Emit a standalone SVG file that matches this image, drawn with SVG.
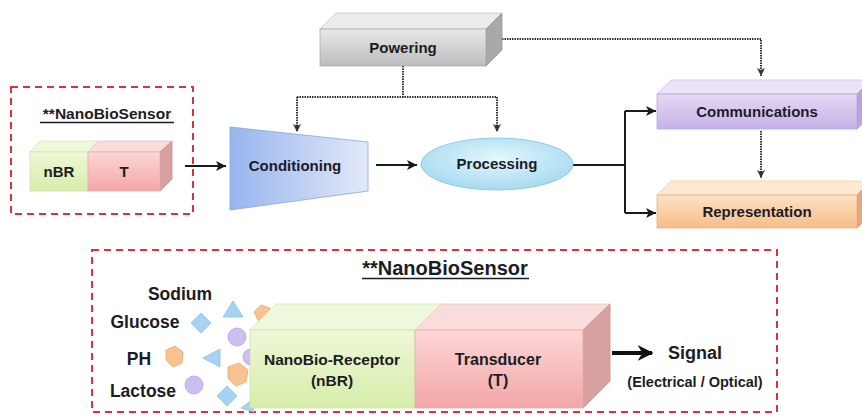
<svg xmlns="http://www.w3.org/2000/svg" width="862" height="415" viewBox="0 0 862 415">
<defs>
<style>
text{font-family:"Liberation Sans",Arial,sans-serif;font-weight:bold;fill:#1c1c24;text-anchor:middle}
.dash{fill:none;stroke:#e0303a;stroke-width:2;stroke-dasharray:7 5}
.solid{fill:none;stroke:#1a1a1a;stroke-width:2}
.dot{fill:none;stroke:#333;stroke-width:2;stroke-dasharray:1.5 1}
.blue{fill:#a6d2f4;stroke:#8fc0e8;stroke-width:0.8}
.purp{fill:#cdbdf0;stroke:#b6a3e2;stroke-width:0.8}
.oran{fill:#f8c291;stroke:#eaa770;stroke-width:0.8}
</style>
<linearGradient id="gPow" x1="0" y1="0" x2="0" y2="1"><stop offset="0" stop-color="#e8e8e8"/><stop offset="1" stop-color="#bcbcbc"/></linearGradient>
<linearGradient id="gCom" x1="0" y1="0" x2="0" y2="1"><stop offset="0" stop-color="#e4d9f5"/><stop offset="1" stop-color="#c5b2e8"/></linearGradient>
<linearGradient id="gRep" x1="0" y1="0" x2="0" y2="1"><stop offset="0" stop-color="#fde2c4"/><stop offset="1" stop-color="#f6bd8a"/></linearGradient>
<linearGradient id="gNbr" x1="0" y1="0" x2="0" y2="1"><stop offset="0" stop-color="#eef8d8"/><stop offset="1" stop-color="#d6eda9"/></linearGradient>
<linearGradient id="gT" x1="0" y1="0" x2="0" y2="1"><stop offset="0" stop-color="#fcd6d6"/><stop offset="1" stop-color="#f3a6a6"/></linearGradient>
<linearGradient id="gCond" x1="0" y1="0" x2="1" y2="0"><stop offset="0" stop-color="#98b5ee"/><stop offset="1" stop-color="#e2e9f8"/></linearGradient>
<radialGradient id="gProc" cx="0.5" cy="0.4" r="0.6"><stop offset="0" stop-color="#e4f7fd"/><stop offset="1" stop-color="#a6daf1"/></radialGradient>
<marker id="arr" viewBox="0 0 10 10" refX="10" refY="5" markerWidth="10" markerHeight="10" markerUnits="userSpaceOnUse" orient="auto"><path d="M0,0 L10,5 L0,10 L2.5,5 z" fill="#1a1a1a"/></marker>
<marker id="arrS" viewBox="0 0 10 10" refX="10" refY="5" markerWidth="8" markerHeight="8" markerUnits="userSpaceOnUse" orient="auto"><path d="M0,0 L10,5 L0,10 L2.5,5 z" fill="#333"/></marker>
<marker id="arrB" viewBox="0 0 10 10" refX="9" refY="5" markerWidth="16" markerHeight="16" markerUnits="userSpaceOnUse" orient="auto"><path d="M0,0 L10,5 L0,10 L3,5 z" fill="#111"/></marker>
</defs>
<rect width="862" height="415" fill="#ffffff"/>

<g id="connectors">
<path class="solid" d="M185,166 L226,166" marker-end="url(#arr)"/>
<path class="solid" d="M376,165 L417,165" marker-end="url(#arr)"/>
<path class="solid" d="M573,165 L625,165 M625,111 L625,213"/>
<path class="solid" d="M625,111 L656,111" marker-end="url(#arr)"/>
<path class="solid" d="M625,213 L656,213" marker-end="url(#arr)"/>
<path class="dot" d="M403,66 L403,97 M297,97 L497,97"/>
<path class="dot" d="M297,97 L297,132" marker-end="url(#arrS)"/>
<path class="dot" d="M497,97 L497,132" marker-end="url(#arrS)"/>
<path class="dot" d="M502,39 L761,39 L761,76" marker-end="url(#arrS)"/>
<path class="dot" d="M761,131 L761,178" marker-end="url(#arrS)"/>
<path fill="none" stroke="#111" stroke-width="4" d="M612,353 L652,353" marker-end="url(#arrB)"/>
</g>

<g id="nbs-small">
<rect class="dash" x="11" y="87" width="182" height="127"/>
<text x="107" y="119" font-size="15.5">**NanoBioSensor</text>
<line x1="40" y1="122.5" x2="174" y2="122.5" stroke="#1c1c24" stroke-width="1.3"/>
<g id="small-nbr">
<polygon points="30,152 40,141 98,141 88,152" fill="#eef8da" stroke="#d8e8c0" stroke-width="0.8"/>
<rect x="30" y="152" width="58" height="39" fill="url(#gNbr)" stroke="#cfe0b0" stroke-width="0.8"/>
<text x="59" y="177" font-size="15">nBR</text>
</g>
<g id="small-t">
<polygon points="88,152 98,141 172,141 160,152" fill="#fbdcdc" stroke="#eac4c4" stroke-width="0.8"/>
<polygon points="160,152 172,141 172,179 160,191" fill="#d9a0a0" stroke="#c89090" stroke-width="0.8"/>
<rect x="88" y="152" width="72" height="39" fill="url(#gT)" stroke="#e6b0b0" stroke-width="0.8"/>
<text x="124" y="177" font-size="15">T</text>
</g>
</g>

<g id="powering">
<polygon points="320,29 336,13 502,13 486,29" fill="#ececec" stroke="#c4c4c4" stroke-width="0.8"/>
<polygon points="486,29 502,13 502,50 486,66" fill="#a8a8a8" stroke="#999" stroke-width="0.8"/>
<rect x="320" y="29" width="166" height="37" fill="url(#gPow)" stroke="#a8a8a8" stroke-width="0.8"/>
<text x="403" y="53" font-size="15">Powering</text>
</g>

<g id="conditioning">
<polygon points="230,127 368,142 368,191 230,210" fill="url(#gCond)" stroke="#8aa6dc" stroke-width="0.8"/>
<text x="295" y="171" font-size="15">Conditioning</text>
</g>

<g id="processing">
<ellipse cx="497" cy="164" rx="76" ry="26" fill="url(#gProc)" stroke="#90cbe6" stroke-width="1"/>
<text x="497" y="169" font-size="15">Processing</text>
</g>

<g id="communications">
<polygon points="657,94 671,80 871,80 857,94" fill="#ebe3f8" stroke="#cfc2ea" stroke-width="0.8"/>
<polygon points="857,94 871,80 871,115 857,129" fill="#b9a5dc" stroke="#a894d0" stroke-width="0.8"/>
<rect x="657" y="94" width="200" height="35" fill="url(#gCom)" stroke="#b8a6dc" stroke-width="0.8"/>
<text x="757" y="117" font-size="15">Communications</text>
</g>

<g id="representation">
<polygon points="657,195 671,181 871,181 857,195" fill="#fde8d2" stroke="#f0cfae" stroke-width="0.8"/>
<polygon points="857,195 871,181 871,214 857,228" fill="#e6a878" stroke="#d89868" stroke-width="0.8"/>
<rect x="657" y="195" width="200" height="33" fill="url(#gRep)" stroke="#e8b080" stroke-width="0.8"/>
<text x="757" y="217" font-size="15">Representation</text>
</g>

<g id="nbs-large">
<rect class="dash" x="92" y="250" width="685" height="162"/>
<text x="445" y="275" font-size="20">**NanoBioSensor</text>
<line x1="362" y1="278.5" x2="529" y2="278.5" stroke="#1c1c24" stroke-width="1.5"/>
<g id="molecules">
<polygon class="oran" points="254,312 261,305 270,308 269,319 259,322"/>
<polygon class="blue" points="223,317 233,301 243,317"/>
<polygon class="blue" points="191,323 201,313 211,323 201,333"/>
<circle class="purp" cx="237" cy="337" r="9"/>
<polygon class="oran" points="166,350 175,346 183,352 182,363 173,367 166,360"/>
<polygon class="blue" points="203,358 220,349 220,367"/>
<circle class="purp" cx="251" cy="357" r="8"/>
<polygon class="oran" points="228,367 239,363 248,370 246,382 236,386 228,378"/>
<circle class="purp" cx="194" cy="385" r="9"/>
<polygon class="blue" points="217,396 227,386 237,396 227,406"/>
<polygon class="blue" points="241,408 252,400 254,412"/>
</g>
<text x="180" y="300" font-size="17.5">Sodium</text>
<text x="145" y="328" font-size="17.5">Glucose</text>
<text x="139" y="365" font-size="17.5">PH</text>
<text x="143" y="397" font-size="17.5">Lactose</text>
<g id="nbr">
<polygon points="250,330 276,304 441,304 415,330" fill="#eef8da" stroke="#d8e8c0" stroke-width="0.8"/>
<rect x="250" y="330" width="165" height="78" fill="url(#gNbr)" stroke="#cfe0b0" stroke-width="0.8"/>
<text x="332" y="365" font-size="15.5">NanoBio-Receptor</text>
<text x="332" y="386" font-size="15.5">(nBR)</text>
</g>
<g id="transducer">
<polygon points="415,330 441,304 610,304 583,330" fill="#fbdcdc" stroke="#eac4c4" stroke-width="0.8"/>
<polygon points="583,330 610,304 610,381 583,408" fill="#d9a0a0" stroke="#c89090" stroke-width="0.8"/>
<rect x="415" y="330" width="168" height="78" fill="url(#gT)" stroke="#e6b0b0" stroke-width="0.8"/>
<text x="498" y="365" font-size="16">Transducer</text>
<text x="498" y="386" font-size="16">(T)</text>
</g>
<text x="695" y="359" font-size="18">Signal</text>
<text x="695" y="387" font-size="14.5">(Electrical / Optical)</text>
</g>
</svg>
